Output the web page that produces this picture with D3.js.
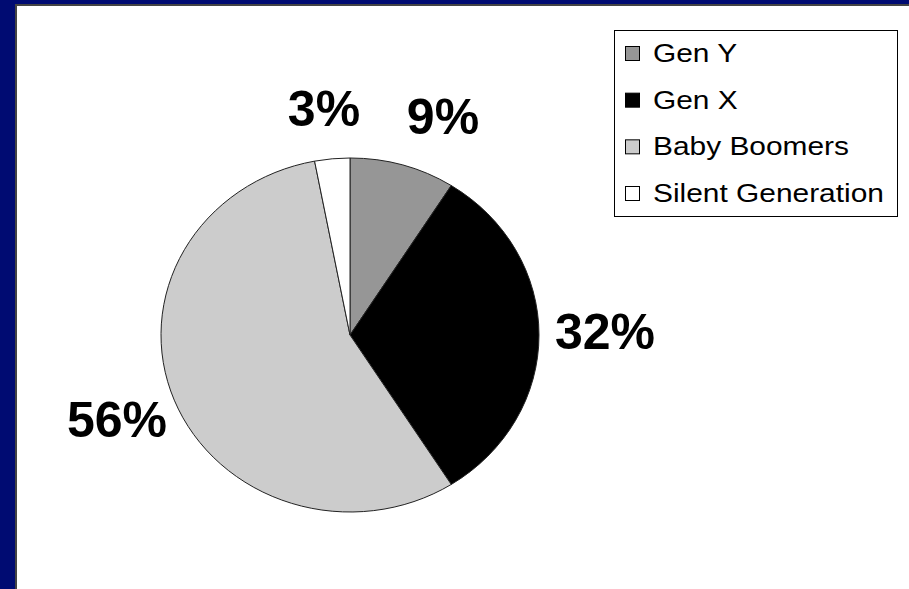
<!DOCTYPE html>
<html>
<head>
<meta charset="utf-8">
<script src="https://cdn.jsdelivr.net/npm/d3@7/dist/d3.min.js"></script>
<style>
  html, body { margin: 0; padding: 0; background: #000b72; }
  svg { display: block; }
</style>
</head>
<body>
<script>
// ---- data ----
const categories = ["Gen Y", "Gen X", "Baby Boomers", "Silent Generation"];
const values = [9, 32, 56, 3];
const labels = ["9%", "32%", "56%", "3%"];
const colors = ["#969696", "#000000", "#cccccc", "#ffffff"];

// ---- layout ----
const W = 909, H = 589;
const cx = 350, cy = 335, rx = 189, ry = 177;
// label anchor points (centre x, baseline y) for each slice label
const labelPos = [[443, 134], [605, 349], [117, 437], [324, 126]];

const svg = d3.select("body").append("svg").attr("width", W).attr("height", H);

svg.append("rect").attr("width", W).attr("height", H).attr("fill", "#000b72");
// shadow line and white plot panel
svg.append("rect").attr("x", 15).attr("y", 4).attr("width", W - 15).attr("height", H - 4).attr("fill", "#444444");
svg.append("rect").attr("x", 17).attr("y", 6).attr("width", W - 17).attr("height", H - 6).attr("fill", "#ffffff");

const pie = d3.pie().sort(null).value(d => d).startAngle(0).endAngle(2 * Math.PI);
const arcs = pie(values);
const arc = d3.arc().innerRadius(0).outerRadius(rx);

const g = svg.append("g").attr("transform", `translate(${cx},${cy}) scale(1,${ry / rx})`);
g.selectAll("path").data(arcs).join("path")
  .attr("d", arc)
  .attr("fill", (d, i) => colors[i])
  .attr("stroke", "#222")
  .attr("stroke-width", 1)
  .attr("vector-effect", "non-scaling-stroke")
  .attr("stroke-linejoin", "round");

svg.selectAll("text.lbl").data(arcs).join("text")
  .attr("class", "lbl")
  .attr("x", (d, i) => labelPos[i][0])
  .attr("y", (d, i) => labelPos[i][1])
  .attr("text-anchor", "middle")
  .attr("font-family", "'Liberation Sans', Arial, sans-serif")
  .attr("font-weight", "bold")
  .attr("font-size", 50)
  .attr("fill", "#000")
  .text((d, i) => labels[i]);

// ---- legend ----
const lg = svg.append("g");
lg.append("rect").attr("x", 614.5).attr("y", 30.5).attr("width", 283).attr("height", 186)
  .attr("fill", "#fff").attr("stroke", "#000").attr("stroke-width", 1);

const rowY = d3.scalePoint().domain(categories).range([62, 202]);
const items = lg.selectAll("g.item").data(categories).join("g").attr("class", "item");
items.append("rect")
  .attr("x", 625.5)
  .attr("y", d => rowY(d) - 15.5)
  .attr("width", 14).attr("height", 14)
  .attr("fill", (d, i) => colors[i])
  .attr("stroke", "#000").attr("stroke-width", 1);
items.append("text")
  .attr("transform", d => `translate(653,${rowY(d)}) scale(1.12,1)`)
  .attr("font-family", "'Liberation Sans', Arial, sans-serif")
  .attr("font-size", 26.7)
  .attr("fill", "#000")
  .text(d => d);
</script>
</body>
</html>
